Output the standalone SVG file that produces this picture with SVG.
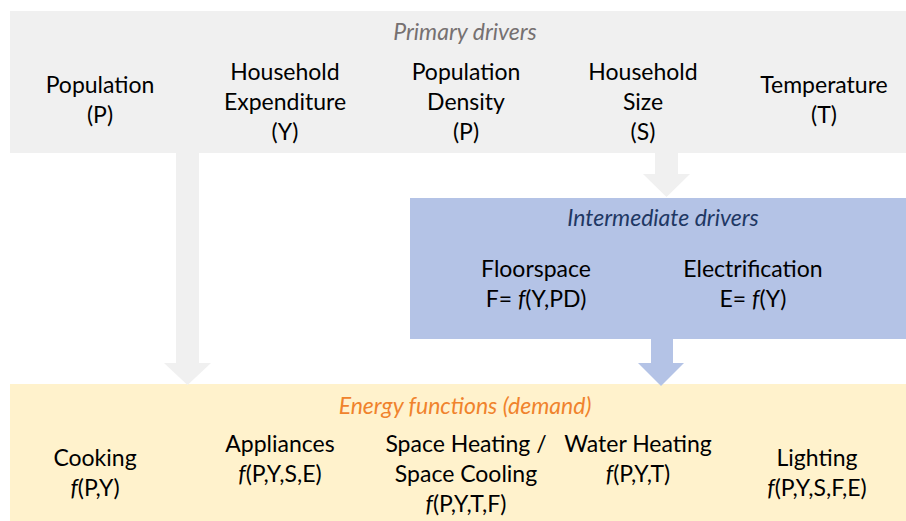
<svg xmlns="http://www.w3.org/2000/svg" width="906" height="521" viewBox="0 0 906 521">
<style>
text{font-family:Lato,"Open Sans","Liberation Sans",sans-serif;font-size:23px;fill:#000;text-anchor:middle}
.h{font-style:italic}
.i{font-style:italic}
.g{fill:#F0F0F0}
.b{fill:#B4C3E6}
.y{fill:#FFF2CC}
</style>
<rect width="906" height="521" fill="#fff"/>
<g id="primary">
<rect class="g" x="10" y="11" width="896" height="142"/>
<text class="h" x="465" y="40" fill="#767171" style="fill:#767171">Primary drivers</text>
<text x="100" y="93">Population</text><text x="100" y="123">(P)</text>
<text x="285" y="80">Household</text><text x="285" y="110">Expenditure</text><text x="285" y="140">(Y)</text>
<text x="466" y="80">Population</text><text x="466" y="110">Density</text><text x="466" y="140">(P)</text>
<text x="643" y="80">Household</text><text x="643" y="110">Size</text><text x="643" y="140">(S)</text>
<text x="824" y="93">Temperature</text><text x="824" y="123">(T)</text>
</g>
<g id="intermediate">
<rect class="b" x="410" y="198" width="496" height="141"/>
<text class="h" x="663" y="226" style="fill:#1F3864">Intermediate drivers</text>
<text x="536" y="277">Floorspace</text><text x="536" y="307">F= <tspan class="i">f</tspan>(Y,PD)</text>
<text x="753" y="277">Electrification</text><text x="753" y="307">E= <tspan class="i">f</tspan>(Y)</text>
</g>
<g id="energy">
<rect class="y" x="10" y="384" width="896" height="137"/>
<text class="h" x="465" y="414" style="fill:#F0832C">Energy functions (demand)</text>
<text x="95" y="466">Cooking</text><text x="95" y="496"><tspan class="i">f</tspan>(P,Y)</text>
<text x="280" y="452">Appliances</text><text x="280" y="482"><tspan class="i">f</tspan>(P,Y,S,E)</text>
<text x="466" y="452">Space Heating /</text><text x="466" y="482">Space Cooling</text><text x="466" y="512"><tspan class="i">f</tspan>(P,Y,T,F)</text>
<text x="638" y="452">Water Heating</text><text x="638" y="482"><tspan class="i">f</tspan>(P,Y,T)</text>
<text x="817" y="466">Lighting</text><text x="817" y="496"><tspan class="i">f</tspan>(P,Y,S,F,E)</text>
</g>
<g id="connectors">
<polygon class="g" points="176,153 199,153 199,363 211,363 187.5,385 164,363 176,363"/>
<polygon class="g" points="655,153 678,153 678,174 690,174 666.5,197 643,174 655,174"/>
<polygon class="b" points="651,339 673,339 673,363 684,363 661,386 638,363 651,363"/>
</g>
</svg>
